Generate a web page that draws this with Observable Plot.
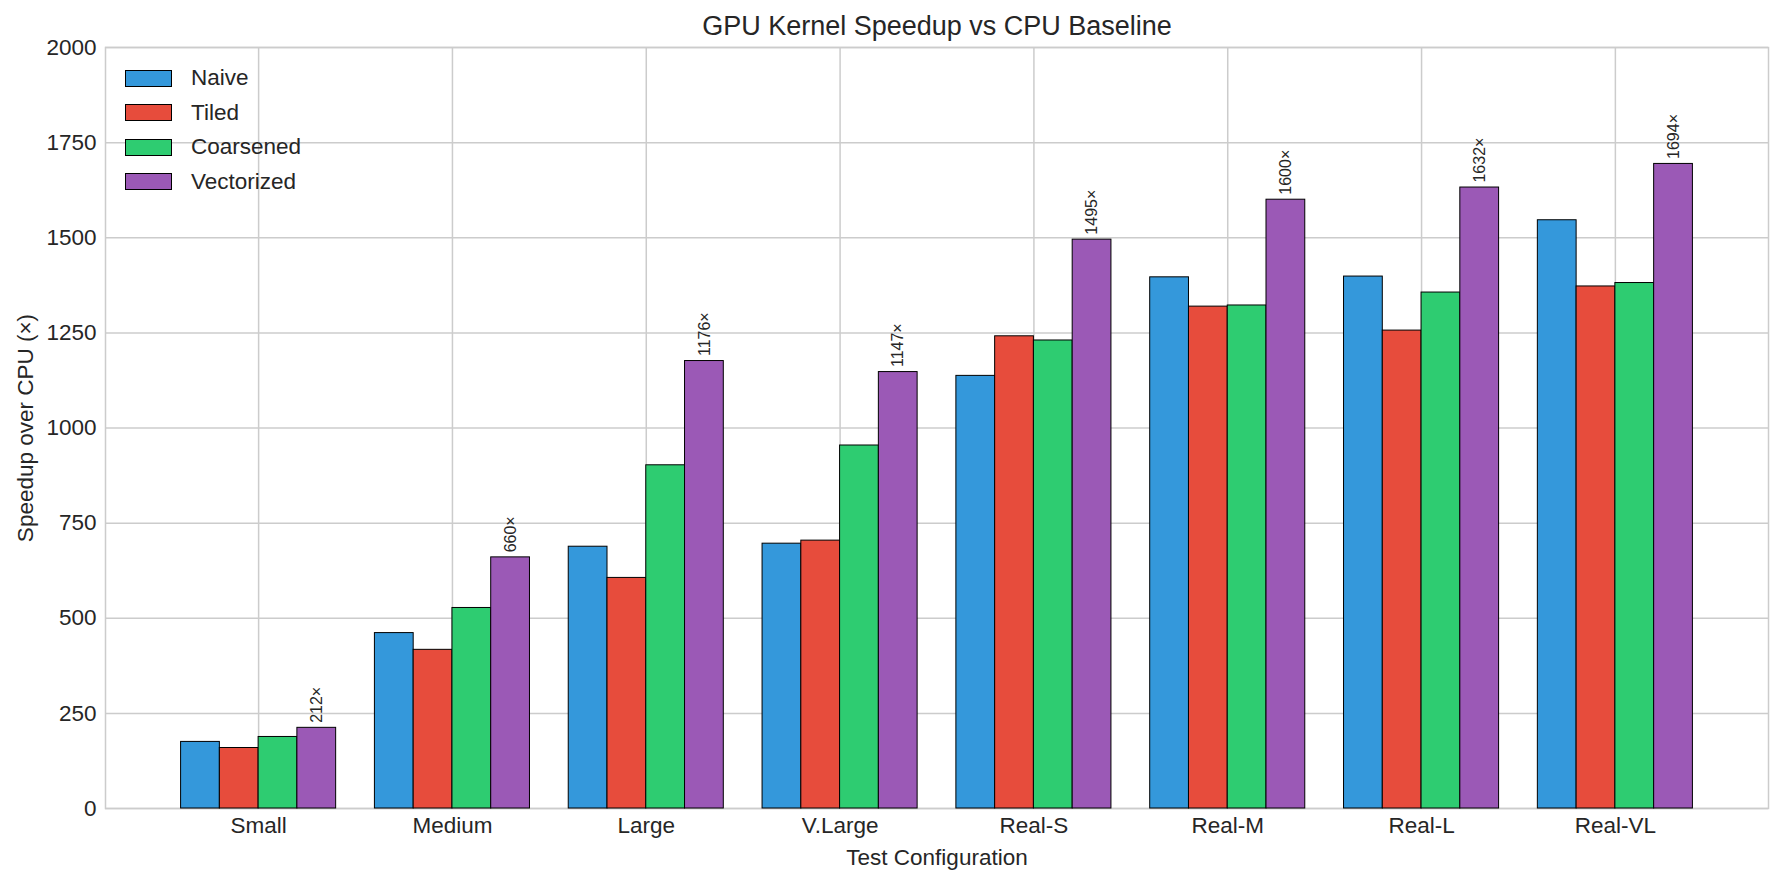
<!DOCTYPE html>
<html>
<head>
<meta charset="utf-8">
<script src="https://cdn.jsdelivr.net/npm/d3@7"></script>
<script src="https://cdn.jsdelivr.net/npm/@observablehq/plot@0.6"></script>
<style>
  html, body { margin: 0; padding: 0; background: #fff; }
  #wrap { position: relative; width: 1782px; height: 885px; font-family: "Liberation Sans", Arial, sans-serif; color: #262626; }
  #legend { position: absolute; left: 125px; top: 61px; }
  .row { display: flex; align-items: center; height: 34.5px; }
  .sw { width: 45px; height: 15px; border: 1px solid #000; box-sizing: content-box; }
  .lab { margin-left: 19px; font-size: 22.5px; line-height: 1; }
</style>
</head>
<body>
<div id="wrap"></div>
<script>
const categories = ["Small", "Medium", "Large", "V.Large", "Real-S", "Real-M", "Real-L", "Real-VL"];
const seriesNames = ["Naive", "Tiled", "Coarsened", "Vectorized"];
const seriesColors = ["#3498db", "#e74c3c", "#2ecc71", "#9b59b6"];
const naive      = [175, 461, 688, 696, 1137, 1396, 1398, 1546];
const tiled      = [159, 417, 606, 704, 1241, 1319, 1256, 1372];
const coarsened  = [188, 527, 902, 954, 1230, 1322, 1356, 1381];
const vectorized = [212, 660, 1176, 1147, 1495, 1600, 1632, 1694];
const yTicks = [0, 250, 500, 750, 1000, 1250, 1500, 1750, 2000];
const titleText = "GPU Kernel Speedup vs CPU Baseline";
const xLabel = "Test Configuration";
const yLabel = "Speedup over CPU (×)";

const seriesValues = [naive, tiled, coarsened, vectorized];
const barWidth = 0.2;
const rows = [];
seriesNames.forEach((s, j) => {
  categories.forEach((c, i) => {
    const x1 = i - 0.4 + j * barWidth;
    rows.push({category: c, series: s, i, j, value: seriesValues[j][i], x1, x2: x1 + barWidth, xc: x1 + barWidth / 2});
  });
});
const labelRows = rows.filter(d => d.series === "Vectorized");
const catIdx = categories.map((_, i) => i);

const chart = Plot.plot({
  width: 1782,
  height: 885,
  marginLeft: 105,
  marginRight: 14,
  marginTop: 47,
  marginBottom: 77,
  style: {fontFamily: "Liberation Sans, Arial, sans-serif", fontSize: "22.5px", color: "#262626", background: "#fff"},
  x: {domain: [-0.79, categories.length - 1 + 0.79]},
  y: {domain: [0, 2000]},
  color: {domain: seriesNames, range: seriesColors},
  marks: [
    Plot.gridX({ticks: catIdx, stroke: "#cccccc", strokeOpacity: 1, strokeWidth: 1.5}),
    Plot.gridY({ticks: yTicks, stroke: "#cccccc", strokeOpacity: 1, strokeWidth: 1.5}),
    Plot.frame({stroke: "#cccccc", strokeWidth: 1.5}),
    Plot.rectY(rows, {x1: "x1", x2: "x2", y: "value", fill: "series", stroke: "#000", strokeWidth: 1}),
    Plot.text(labelRows, {x: "xc", y: "value", text: d => `${d.value}×`, rotate: -90, textAnchor: "start", lineAnchor: "middle", dy: -5, fontSize: 16, fill: "#262626"}),
    Plot.axisX({ticks: catIdx, tickFormat: i => categories[i], tickSize: 0, tickPadding: 9, label: null}),
    Plot.axisY({ticks: yTicks, tickFormat: d => String(d), tickSize: 0, tickPadding: 9, label: null}),
    Plot.text([titleText], {frameAnchor: "top", dy: -21.5, lineAnchor: "middle", fontSize: 27, fill: "#262626"}),
    Plot.text([xLabel], {frameAnchor: "bottom", dy: 49, lineAnchor: "middle", fontSize: 22.5, fill: "#262626"}),
    Plot.text([yLabel], {frameAnchor: "left", dx: -80, rotate: -90, lineAnchor: "middle", textAnchor: "middle", fontSize: 22.5, fill: "#262626"})
  ]
});

const wrap = document.getElementById("wrap");
wrap.appendChild(chart);
const legend = document.createElement("div");
legend.id = "legend";
seriesNames.forEach((s, j) => {
  const r = document.createElement("div");
  r.className = "row";
  const sw = document.createElement("div");
  sw.className = "sw";
  sw.style.background = seriesColors[j];
  const lb = document.createElement("span");
  lb.className = "lab";
  lb.textContent = s;
  r.appendChild(sw); r.appendChild(lb);
  legend.appendChild(r);
});
wrap.appendChild(legend);
</script>
</body>
</html>
